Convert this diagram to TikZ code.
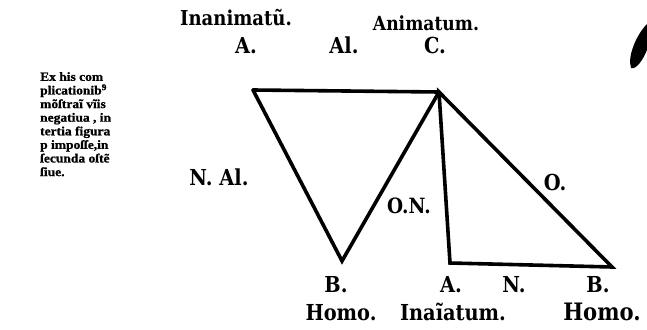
\documentclass[tikz,border=0pt]{standalone}
\usepackage{fontspec}
\setmainfont{DejaVu Serif}[FakeStretch=0.88]
\newfontfamily\heavyserif[FakeStretch=1.08, FakeBold=1]{Liberation Serif}
\begin{document}
\begin{tikzpicture}[x=1pt,y=-1pt,
  lbl/.style={font=\fontsize{22}{24}\selectfont\bfseries, inner sep=0pt, anchor=base},
  side/.style={font=\heavyserif\fontsize{12.5}{13.6}\selectfont\bfseries, inner sep=0pt, align=left, anchor=north west},
  edge/.style={line width=3.6pt, line join=miter, line cap=round}]
\useasboundingbox (0,0) rectangle (647,329);
% vertices
\coordinate (tl) at (253,90);
\coordinate (c) at (439,92);
\coordinate (vb) at (342,261);
\coordinate (a) at (450,263);
\coordinate (b) at (612,267);
% lines
\draw[edge] (tl) -- (c);
\draw[edge] (tl) -- (vb) -- (c);
\draw[edge] (c) -- (a) -- (b) -- cycle;
% ink blot
\fill (631,68) .. controls (627,56) and (637,34) .. (647,24) -- (647,50) .. controls (643,60) and (636,70) .. (631,68) -- cycle;
% top labels
\node[lbl, font=\fontsize{20.5}{24}\selectfont\bfseries] (inan) at (236,26) {Inanimatũ.};
\node[lbl, font=\fontsize{19.5}{24}\selectfont\bfseries] (anim) at (426,31) {Animatum.};
\node[lbl] (ta) at (246,53) {A.};
\node[lbl] (tal) at (344,53) {Al.};
\node[lbl] (tc) at (435,53) {C.};
% middle labels
\node[lbl] (nal) at (219,185) {N. Al.};
\node[lbl, font=\fontsize{21}{24}\selectfont\bfseries] (on) at (409,213) {O.N.};
\node[lbl] (o) at (555,190) {O.};
% bottom labels
\node[lbl] (bb) at (336,292) {B.};
\node[lbl] (ba) at (451,292) {A.};
\node[lbl] (bn) at (514,292) {N.};
\node[lbl] (bb2) at (598,292) {B.};
\node[lbl] (homo1) at (341,320) {Homo.};
\node[lbl] (inai) at (453,320) {Inaĩatum.};
\node[lbl, font=\fontsize{24}{26}\selectfont\bfseries] (homo2) at (602,320) {Homo.};
% side text
\node[side] (txt) at (40,72) {Ex his com\\plicationib\textsuperscript{9}\\mõſtraĩ vĩis\\negatiua , in\\tertia figura\\p impoſſe,in\\ſecunda oſtẽ\\ſiue.};
\end{tikzpicture}
\end{document}
